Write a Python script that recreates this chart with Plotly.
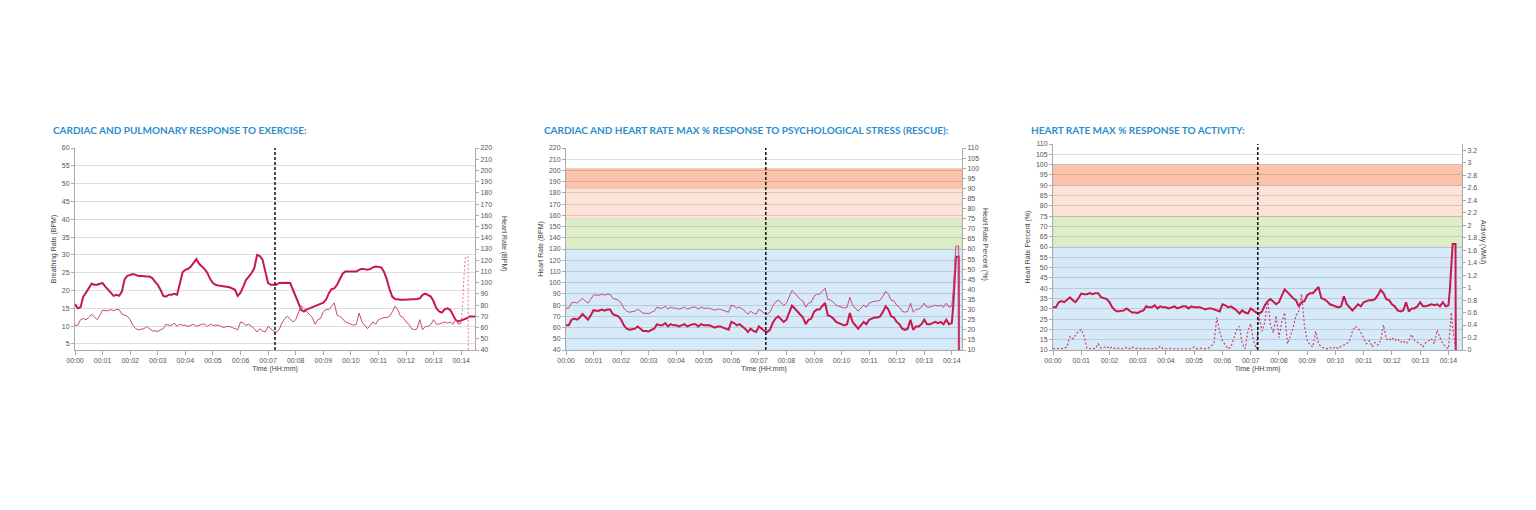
import plotly.graph_objects as go

# --- data (minutes since start) ---
TIME_MIN = [
    0.0, 0.1, 0.2, 0.3, 0.4, 0.5, 0.6, 0.7, 0.8, 0.9,
    1.0, 1.1, 1.2, 1.3, 1.4, 1.5, 1.6, 1.7, 1.8, 1.9,
    2.0, 2.1, 2.2, 2.3, 2.4, 2.5, 2.6, 2.7, 2.8, 2.9,
    3.0, 3.1, 3.2, 3.3, 3.4, 3.5, 3.6, 3.7, 3.8, 3.9,
    4.0, 4.1, 4.2, 4.3, 4.4, 4.5, 4.6, 4.7, 4.8, 4.9,
    5.0, 5.1, 5.2, 5.3, 5.4, 5.5, 5.6, 5.7, 5.8, 5.9,
    6.0, 6.1, 6.2, 6.3, 6.4, 6.5, 6.6, 6.7, 6.8, 6.9,
    7.0, 7.1, 7.2, 7.3, 7.4, 7.5, 7.6, 7.7, 7.8, 7.9,
    8.0, 8.1, 8.2, 8.3, 8.4, 8.5, 8.6, 8.7, 8.8, 8.9,
    9.0, 9.1, 9.2, 9.3, 9.4, 9.5, 9.6, 9.7, 9.8, 9.9,
    10.0, 10.1, 10.2, 10.3, 10.4, 10.5, 10.6, 10.7, 10.8, 10.9,
    11.0, 11.1, 11.2, 11.3, 11.4, 11.5, 11.6, 11.7, 11.8, 11.9,
    12.0, 12.1, 12.2, 12.3, 12.4, 12.5, 12.6, 12.7, 12.8, 12.9,
    13.0, 13.1, 13.2, 13.3, 13.4, 13.5, 13.6, 13.7, 13.8, 13.9,
    14.0, 14.05, 14.1, 14.15, 14.25, 14.26,
]

HR_BPM = [
    62, 62, 67, 68, 67, 69, 72, 69, 67, 71,
    75.5, 75, 75, 76, 75, 76, 76, 72, 71, 70,
    67, 62, 59, 58, 58.5, 59, 61, 59, 57, 57,
    56.5, 58, 59, 63, 62, 62, 64, 61, 63, 62,
    62, 61, 62, 63, 61, 62, 63, 63, 61, 63,
    62, 62, 62, 61, 60, 61, 61, 60, 59, 58,
    65, 64, 62, 63, 61, 59, 56, 59, 57, 56,
    61, 59, 57, 56, 58, 64, 68, 70, 67, 65,
    67, 74, 79.5, 77, 74, 71, 69, 63, 67, 68,
    74, 76, 76, 79, 82, 71, 70, 68, 65, 64,
    63, 62, 63, 73, 65, 62, 59, 62, 65, 63,
    67, 68, 69, 69, 70, 74, 79, 76, 70, 69,
    65, 63, 59, 58, 59, 67, 58, 61, 61, 63,
    67, 63, 63, 64, 65, 64, 65, 63, 67, 63,
    64, 79, 105, 123, 123, 0,
]

HR_PCT = [
    30.7, 30.7, 33.2, 33.7, 33.2, 34.2, 35.6, 34.2, 33.2, 35.1,
    37.4, 37.1, 37.1, 37.6, 37.1, 37.6, 37.6, 35.6, 35.1, 34.7,
    33.2, 30.7, 29.2, 28.7, 29.0, 29.2, 30.2, 29.2, 28.2, 28.2,
    28.0, 28.7, 29.2, 31.2, 30.7, 30.7, 31.7, 30.2, 31.2, 30.7,
    30.7, 30.2, 30.7, 31.2, 30.2, 30.7, 31.2, 31.2, 30.2, 31.2,
    30.7, 30.7, 30.7, 30.2, 29.7, 30.2, 30.2, 29.7, 29.2, 28.7,
    32.2, 31.7, 30.7, 31.2, 30.2, 29.2, 27.7, 29.2, 28.2, 27.7,
    30.2, 29.2, 28.2, 27.7, 28.7, 31.7, 33.7, 34.7, 33.2, 32.2,
    33.2, 36.6, 39.4, 38.1, 36.6, 35.1, 34.2, 31.2, 33.2, 33.7,
    36.6, 37.6, 37.6, 39.1, 40.6, 35.1, 34.7, 33.7, 32.2, 31.7,
    31.2, 30.7, 31.2, 36.1, 32.2, 30.7, 29.2, 30.7, 32.2, 31.2,
    33.2, 33.7, 34.2, 34.2, 34.7, 36.6, 39.1, 37.6, 34.7, 34.2,
    32.2, 31.2, 29.2, 28.7, 29.2, 33.2, 28.7, 30.2, 30.2, 31.2,
    33.2, 31.2, 31.2, 31.7, 32.2, 31.7, 32.2, 31.2, 33.2, 31.2,
    31.7, 39.1, 52.0, 61.5, 61.5, 0,
]

ACTIVITY_VMU = [
    0.02, 0.03, 0.02, 0.02, 0.03, 0.05, 0.22, 0.18, 0.25, 0.30,
    0.33, 0.22, 0.03, 0.02, 0.03, 0.02, 0.10, 0.03, 0.04, 0.06,
    0.02, 0.05, 0.02, 0.03, 0.02, 0.02, 0.04, 0.02, 0.05, 0.02,
    0.03, 0.02, 0.02, 0.03, 0.02, 0.02, 0.03, 0.02, 0.06, 0.02,
    0.02, 0.03, 0.02, 0.02, 0.03, 0.02, 0.02, 0.03, 0.02, 0.02,
    0.05, 0.02, 0.03, 0.02, 0.02, 0.03, 0.06, 0.12, 0.52, 0.30,
    0.15, 0.08, 0.02, 0.05, 0.20, 0.32, 0.38, 0.10, 0.02, 0.30,
    0.42, 0.15, 0.02, 0.55, 0.30, 0.45, 0.80, 0.40, 0.28, 0.55,
    0.20, 0.45, 0.60, 0.10, 0.22, 0.35, 0.55, 0.62, 0.90, 0.40,
    0.15, 0.08, 0.05, 0.30, 0.10, 0.05, 0.03, 0.02, 0.04, 0.02,
    0.05, 0.02, 0.06, 0.08, 0.10, 0.15, 0.30, 0.38, 0.35, 0.28,
    0.20, 0.10, 0.15, 0.05, 0.12, 0.08, 0.15, 0.40, 0.18, 0.15,
    0.20, 0.15, 0.18, 0.12, 0.15, 0.10, 0.15, 0.25, 0.15, 0.12,
    0.10, 0.05, 0.12, 0.15, 0.18, 0.10, 0.32, 0.20, 0.10, 0.05,
    0.02, 0.30, 0.60, 0.35, 0.02, 0.0,
]

BR_TIME = [
    0.0, 0.1, 0.2, 0.3, 0.4, 0.5, 0.6, 0.7, 0.8, 0.9,
    1.0, 1.1, 1.2, 1.3, 1.4, 1.5, 1.6, 1.7, 1.8, 1.9,
    2.0, 2.1, 2.2, 2.3, 2.4, 2.5, 2.6, 2.7, 2.8, 2.9,
    3.0, 3.1, 3.2, 3.3, 3.4, 3.5, 3.6, 3.7, 3.8, 3.9,
    4.0, 4.1, 4.2, 4.3, 4.4, 4.5, 4.6, 4.7, 4.8, 4.9,
    5.0, 5.1, 5.2, 5.3, 5.4, 5.5, 5.6, 5.7, 5.8, 5.9,
    6.0, 6.1, 6.2, 6.3, 6.4, 6.5, 6.6, 6.7, 6.8, 6.9,
    7.0, 7.1, 7.2, 7.3, 7.4, 7.5, 7.6, 7.7, 7.8, 7.9,
    8.0, 8.1, 8.2, 8.3, 8.4, 8.5, 8.6, 8.7, 8.8, 8.9,
    9.0, 9.1, 9.2, 9.3, 9.4, 9.5, 9.6, 9.7, 9.8, 9.9,
    10.0, 10.1, 10.2, 10.3, 10.4, 10.5, 10.6, 10.7, 10.8, 10.9,
    11.0, 11.1, 11.2, 11.3, 11.4, 11.5, 11.6, 11.7, 11.8, 11.9,
    12.0, 12.1, 12.2, 12.3, 12.4, 12.5, 12.6, 12.7, 12.8, 12.9,
    13.0, 13.1, 13.2, 13.3, 13.4, 13.5, 13.6, 13.7, 13.8, 13.9,
    14.0, 14.1, 14.2, 14.3, 14.4, 14.5,
]

BREATHING_BPM = [
    16.2, 15.0, 15.3, 18.3, 19.4, 20.6, 21.9, 21.6, 21.6, 21.9,
    22.1, 21.1, 20.2, 19.4, 18.5, 18.8, 18.5, 19.7, 23.2, 24.1,
    24.4, 24.6, 24.4, 24.1, 24.1, 23.9, 23.9, 23.9, 23.5, 22.5,
    21.6, 20.2, 18.5, 18.3, 18.8, 18.8, 19.1, 18.8, 22.1, 25.1,
    25.8, 26.1, 26.7, 27.9, 28.8, 27.5, 26.7, 26.0, 24.9, 23.2,
    22.1, 21.6, 21.4, 21.3, 21.1, 20.9, 20.9, 20.6, 20.2, 18.5,
    19.4, 21.1, 23.0, 23.9, 24.9, 26.3, 30.0, 29.7, 28.6, 25.3,
    22.1, 21.6, 21.6, 21.6, 22.1, 22.2, 22.3, 22.2, 22.1, 20.2,
    18.1, 16.0, 14.6, 14.1, 14.7, 15.0, 15.3, 15.7, 16.0, 16.4,
    16.6, 17.4, 19.2, 20.4, 20.6, 21.6, 23.2, 24.7, 25.3, 25.3,
    25.2, 25.1, 25.3, 25.8, 26.1, 26.0, 25.8, 26.0, 26.5, 26.7,
    26.7, 26.5, 25.3, 23.2, 20.4, 18.3, 17.6, 17.4, 17.4, 17.4,
    17.4, 17.4, 17.6, 17.6, 17.6, 17.8, 18.8, 19.1, 18.8, 18.3,
    16.9, 15.0, 14.1, 13.8, 14.7, 15.0, 14.6, 12.9, 11.7, 11.3,
    11.5, 11.9, 12.2, 12.7, 12.7, 12.7,
]

TICK_MIN = [0, 1, 2, 3, 4, 5, 6, 7, 8, 9, 10, 11, 12, 13, 14]
TICK_TEXT = ["00:00", "00:01", "00:02", "00:03", "00:04", "00:05", "00:06", "00:07",
             "00:08", "00:09", "00:10", "00:11", "00:12", "00:13", "00:14"]
ACT_TICKS = [0, 0.2, 0.4, 0.6, 0.8, 1, 1.2, 1.4, 1.6, 1.8, 2, 2.2, 2.4, 2.6, 2.8, 3, 3.2]
ACT_TICK_TEXT = ["0", "0.2", "0.4", "0.6", "0.8", "1", "1.2", "1.4", "1.6", "1.8",
                 "2", "2.2", "2.4", "2.6", "2.8", "3", "3.2"]
BR_TICKS = [5, 10, 15, 20, 25, 30, 35, 40, 45, 50, 55, 60]

EVENT_MIN = 7.25     # marker (dashed line)
SPIKE_START = 140    # index where the end-of-session spike starts

# heart rate zones, % of HR max
ZONE_LOW = [10, 60, 75, 90]
ZONE_HIGH = [60, 75, 90, 100]
ZONE_COLORS = ["#d6eaf9", "#ddedc8", "#fde2d8", "#fbc3a9"]

TITLES = [
    "CARDIAC AND PULMONARY RESPONSE TO EXERCISE:",
    "CARDIAC AND HEART RATE MAX % RESPONSE TO PSYCHOLOGICAL STRESS (RESCUE):",
    "HEART RATE MAX % RESPONSE TO ACTIVITY:",
]
RIGHT_TITLES = ["Heart Rate (BPM)", "Heart Rate Percent (%)", "Activity (VMU)"]
LEFT_TITLES = ["Breathing Rate (BPM)", "Heart Rate (BPM)", "Heart Rate Percent (%)"]

# page has an 8px body margin, so the figure is drawn 8px in from the window edge
OFF = 8
W, H = 1536 - 2 * OFF, 510 - 2 * OFF
DARK = "#c8184a"
THIN = "#c64a78"
TICKFONT = dict(family="Liberation Sans, Arial", size=7, color="#555")
TITLEFONT = dict(family="Liberation Sans, Arial", size=7, color="#444")


def px(x):
    return (x - OFF) / W


def py(y):
    return 1 - (y - OFF) / H


# plot areas in window pixels: left, right, top, bottom
AREAS = [(75, 475, 148, 350), (566, 962, 148, 350), (1053, 1462, 144, 350)]
RIGHT_TITLE_GAP = [23, 23, 27]

fig = go.Figure()

# panel 1
fig.add_trace(go.Scatter(x=BR_TIME, y=BREATHING_BPM, mode="lines", xaxis="x", yaxis="y",
                         line=dict(color=DARK, width=2)))
fig.add_trace(go.Scatter(x=TIME_MIN[:SPIKE_START + 1], y=HR_BPM[:SPIKE_START + 1], mode="lines",
                         xaxis="x", yaxis="y2", line=dict(color=THIN, width=1)))
fig.add_trace(go.Scatter(x=TIME_MIN[SPIKE_START:], y=HR_BPM[SPIKE_START:], mode="lines",
                         xaxis="x", yaxis="y2", line=dict(color="#e07a9a", width=1, dash="2px,2px")))

# panel 2
fig.add_trace(go.Scatter(x=TIME_MIN, y=HR_PCT, mode="lines", xaxis="x2", yaxis="y4",
                         line=dict(color=THIN, width=1)))
fig.add_trace(go.Scatter(x=TIME_MIN, y=HR_BPM, mode="lines", xaxis="x2", yaxis="y3",
                         line=dict(color=DARK, width=2)))

# panel 3
fig.add_trace(go.Scatter(x=TIME_MIN, y=ACTIVITY_VMU, mode="lines", xaxis="x3", yaxis="y6",
                         line=dict(color="#cc3f70", width=1.2, dash="2px,2px")))
fig.add_trace(go.Scatter(x=TIME_MIN, y=HR_PCT, mode="lines", xaxis="x3", yaxis="y5",
                         line=dict(color=DARK, width=2)))

common_x = dict(showgrid=False, showline=True, linecolor="#aaa", ticks="outside", ticklen=4,
                tickcolor="#aaa", tickvals=TICK_MIN, ticktext=TICK_TEXT, tickfont=TICKFONT,
                title=dict(text="Time (HH:mm)", font=TITLEFONT, standoff=2), zeroline=False,
                automargin=False)
left_y = dict(showgrid=True, gridcolor="rgba(0,0,0,0.13)", gridwidth=1, showline=True,
              linecolor="#aaa", ticks="outside", ticklen=3, tickcolor="#aaa", tickfont=TICKFONT,
              zeroline=False, automargin=False)
right_y = dict(showgrid=False, showline=True, linecolor="#aaa", ticks="outside", ticklen=3,
               tickcolor="#aaa", tickfont=TICKFONT, side="right", zeroline=False, automargin=False)

layout = dict(template="none", width=W, height=H, margin=dict(l=0, r=0, t=0, b=0), showlegend=False,
              plot_bgcolor="rgba(0,0,0,0)", paper_bgcolor="white")

XRANGES = [[0, 14.5], [0, 14.37], [0, 14.48]]
for i, (l, r, t, b) in enumerate(AREAS):
    xs = "" if i == 0 else str(i + 1)
    layout["xaxis" + xs] = dict(common_x, domain=[px(l), px(r)], range=XRANGES[i],
                                anchor="y" + ("" if i == 0 else str(2 * i + 1)))

layout["yaxis"] = dict(left_y, domain=[py(350), py(148)], anchor="x", range=[3.3, 60], tickvals=BR_TICKS,
                       title=dict(text=LEFT_TITLES[0], font=TITLEFONT, standoff=4))
layout["yaxis2"] = dict(right_y, overlaying="y", anchor="x", range=[40, 220], dtick=10)
layout["yaxis3"] = dict(left_y, domain=[py(350), py(148)], anchor="x2", range=[40, 220], dtick=10,
                        title=dict(text=LEFT_TITLES[1], font=TITLEFONT, standoff=4))
layout["yaxis4"] = dict(right_y, overlaying="y3", anchor="x2", range=[10, 110], dtick=5)
layout["yaxis5"] = dict(left_y, domain=[py(350), py(144)], anchor="x3", range=[10, 110], dtick=5,
                        title=dict(text=LEFT_TITLES[2], font=TITLEFONT, standoff=4))
layout["yaxis6"] = dict(right_y, overlaying="y5", anchor="x3", range=[0, 3.3], tickvals=ACT_TICKS,
                        ticktext=ACT_TICK_TEXT)

fig.update_layout(**layout)

# zone bands (panels 2 and 3), drawn on the % axes
for xr, yr in [("x2", "y4"), ("x3", "y5")]:
    for lo, hi, c in zip(ZONE_LOW, ZONE_HIGH, ZONE_COLORS):
        fig.add_shape(type="rect", xref=xr + " domain", yref=yr, x0=0, x1=1, y0=lo, y1=hi,
                      fillcolor=c, line=dict(color="rgba(0,0,0,0.08)", width=0.6), layer="below")

# event marker
for xr, yr in [("x", "y"), ("x2", "y3"), ("x3", "y5")]:
    fig.add_shape(type="line", xref=xr, yref=yr + " domain", x0=EVENT_MIN, x1=EVENT_MIN, y0=0, y1=1,
                  line=dict(color="#111", width=1.5, dash="3px,2px"))

# panel titles
for (l, r, t, b), text in zip(AREAS, TITLES):
    fig.add_annotation(x=px(l - 24), y=py(130), xref="paper", yref="paper", text="<b>" + text + "</b>",
                       showarrow=False, xanchor="left", yanchor="middle",
                       font=dict(family="Lato, Open Sans", size=10, color="#2b8dcc"))

# right axis titles (rotated, reading downward)
for (l, r, t, b), text, gap in zip(AREAS, RIGHT_TITLES, RIGHT_TITLE_GAP):
    fig.add_annotation(x=px(r + gap), y=py((t + b) / 2 - 5), xref="paper", yref="paper", text=text,
                       showarrow=False, textangle=90, font=TITLEFONT)

fig.write_html("out.html")
